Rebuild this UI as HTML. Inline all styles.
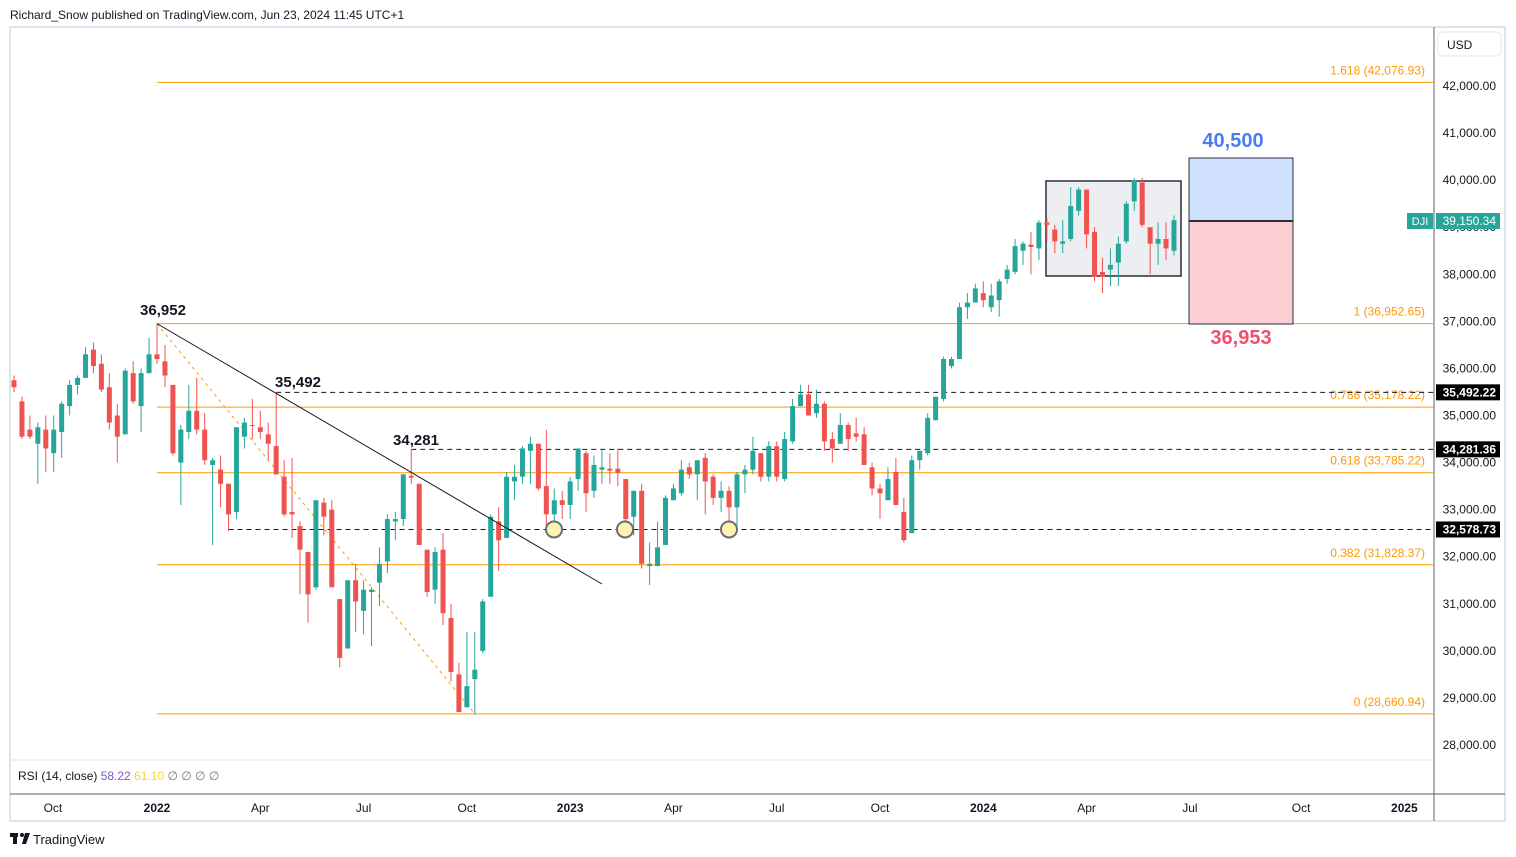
<!DOCTYPE html>
<html><head><meta charset="utf-8">
<style>
body{margin:0;background:#fff;width:1516px;height:857px;overflow:hidden;font-family:"Liberation Sans",sans-serif;}
svg{position:absolute;left:0;top:0}
</style></head>
<body>
<svg id="chart" width="1516" height="857" xmlns="http://www.w3.org/2000/svg">
<text x="10" y="19" font-size="12" fill="#131722">Richard_Snow published on TradingView.com, Jun 23, 2024 11:45 UTC+1</text>
<rect x="10" y="27" width="1495" height="794" fill="#fff" stroke="#e0e3eb" stroke-width="2"/>
<line x1="1434" y1="27" x2="1434" y2="821" stroke="#5d606b" stroke-width="1"/>
<line x1="10" y1="760" x2="1434" y2="760" stroke="#e0e3eb" stroke-width="1"/>
<line x1="10" y1="794" x2="1505" y2="794" stroke="#5d606b" stroke-width="1"/>
<rect x="1438" y="32" width="63" height="24" rx="4" fill="#fff" stroke="#e0e3eb"/>
<text x="1447" y="49" font-size="12" fill="#131722">USD</text>
<rect x="1046" y="181" width="135" height="95" fill="#eceef2" stroke="#2a2e39" stroke-width="1.5"/>
<g id="yaxis"></g>
<g id="fib"></g>
<g id="levels"></g>
<g id="candles"></g>
<g id="overlay"></g>
<g id="xaxis"></g>
<text x="18" y="780" font-size="12" fill="#131722">RSI (14, close) <tspan fill="#7e57c2">58.22</tspan> <tspan fill="#f7d13a">61.10</tspan> <tspan fill="#787b86">∅ ∅ ∅ ∅</tspan></text>
<g>
<rect x="10" y="833" width="8" height="4" fill="#131722"/><rect x="13" y="833" width="4" height="11" fill="#131722"/><circle cx="22" cy="835" r="2" fill="#131722"/><path d="M25 833 L30 833 L26 844 L22 844 Z" fill="#131722"/>
<text x="33" y="844" font-size="13" fill="#131722">TradingView</text></g>
</svg>
<script>
// Weekly OHLC in thousands (DJI)
const opens=[35.75,35.3,34.7,34.4,34.7,34.2,34.65,35.2,35.65,35.8,36.4,36.1,35.6,35.0,34.6,35.9,35.2,35.9,36.3,36.15,35.65,34.0,34.65,35.1,34.7,33.95,33.85,33.55,32.95,34.55,34.8,34.75,34.6,34.35,33.7,32.95,32.65,32.1,31.35,33.15,33.0,31.1,30.05,31.5,30.85,31.25,31.45,31.9,32.75,32.8,33.72,33.55,32.15,31.3,32.15,30.7,29.5,28.8,29.4,30.0,31.15,32.75,32.4,33.6,33.7,34.25,34.4,33.5,32.9,33.2,33.1,33.65,34.2,33.4,33.85,33.87,33.87,33.65,32.85,33.4,31.8,31.8,32.25,33.2,33.35,33.9,33.75,34.1,33.7,33.25,33.4,33.05,33.75,33.85,34.2,33.7,34.35,33.65,34.45,35.2,35.45,35.05,35.25,34.5,34.4,34.8,34.62,34.6,33.9,33.45,33.2,33.8,32.95,32.5,34.05,34.2,34.9,35.35,36.05,36.2,37.3,37.4,37.6,37.3,37.45,37.9,38.05,38.5,38.63,38.55,39.1,38.95,38.65,38.75,39.35,39.8,38.9,38.05,38.1,38.25,38.7,39.55,39.95,39.0,38.65,38.75,38.5];
const closes=[35.6,34.55,34.55,34.75,34.3,34.7,35.25,35.65,35.8,36.3,36.05,35.55,34.85,34.55,35.95,35.3,35.9,36.3,36.2,35.85,34.2,34.7,35.1,34.7,34.05,34.05,33.55,32.9,34.75,34.85,34.78,34.65,34.4,33.75,32.9,32.9,32.15,31.2,33.2,32.85,31.35,29.85,31.5,31.05,31.3,31.3,31.85,32.8,32.8,33.75,33.68,32.25,31.25,32.1,30.8,29.55,28.7,29.25,29.6,31.05,32.85,32.35,33.7,33.7,34.3,34.4,33.45,32.9,33.2,33.1,33.6,34.3,33.35,33.95,33.9,33.83,33.78,32.8,33.4,31.85,31.85,32.2,33.25,33.45,33.85,33.75,34.05,33.6,33.25,33.4,33.05,33.75,33.85,34.25,33.7,34.35,33.7,34.5,35.2,35.45,35.0,35.25,34.45,34.3,34.8,34.5,34.55,33.95,33.45,33.35,33.65,33.1,32.35,34.05,34.25,34.95,35.4,36.2,36.2,37.3,37.4,37.7,37.45,37.55,37.85,38.1,38.6,38.65,38.58,39.1,39.05,38.7,38.7,39.45,39.8,38.85,37.95,37.95,38.2,38.65,39.5,40.0,39.05,38.65,38.75,38.55,39.15];
const highs=[35.85,35.4,35.0,34.85,35.0,35.0,35.3,35.75,35.85,36.45,36.55,36.3,35.9,35.25,36.0,36.15,36.0,36.65,36.95,36.5,35.65,34.8,35.65,35.8,35.05,34.1,34.15,33.55,34.75,34.95,35.35,35.1,34.85,35.49,34.05,34.1,32.75,32.1,33.2,33.25,33.2,31.1,31.5,31.85,31.5,31.35,32.2,32.9,32.95,33.75,34.28,33.55,32.15,32.2,32.5,31.0,29.75,30.4,30.4,31.1,32.9,33.05,33.8,33.95,34.35,34.55,34.4,34.7,33.45,33.4,33.7,34.3,34.25,34.15,34.3,34.2,34.3,33.65,33.4,33.55,32.3,32.75,33.3,33.55,34.05,34.0,34.05,34.2,33.75,33.6,33.5,33.8,33.95,34.55,34.2,34.45,34.45,34.65,35.35,35.65,35.65,35.55,35.3,34.65,35.05,34.85,34.95,34.75,34.0,33.55,33.9,34.1,33.25,34.15,34.25,35.05,35.4,36.25,36.25,37.4,37.6,37.8,37.85,37.8,37.9,38.2,38.75,38.7,38.9,39.15,39.2,39.05,39.15,39.85,39.85,39.8,39.0,38.35,38.55,38.8,39.55,40.05,40.05,39.0,39.1,39.1,39.25];
const lows=[35.5,34.5,34.5,33.55,33.8,33.8,34.1,35.0,35.45,35.8,35.9,35.5,34.7,34.0,34.6,35.25,34.65,35.9,36.1,35.6,34.15,33.1,34.5,34.6,33.95,32.25,33.05,32.55,32.8,34.3,34.5,34.5,34.05,33.75,32.85,32.4,31.2,30.6,31.3,32.45,31.35,29.65,30.05,30.4,30.35,30.1,30.95,31.65,32.35,32.65,33.55,32.25,31.15,31.0,30.55,29.35,28.7,28.8,28.65,29.95,31.15,31.7,32.4,33.2,33.55,33.55,33.4,32.65,32.55,32.8,32.8,33.4,32.95,33.25,33.55,33.55,33.5,32.65,32.45,31.75,31.4,31.8,32.25,33.2,33.3,33.65,33.2,32.9,33.1,32.95,32.65,32.65,33.35,33.75,33.6,33.6,33.6,33.6,34.4,35.2,35.0,34.95,34.25,34.0,34.4,34.25,34.45,33.95,33.3,32.8,33.2,33.1,32.3,32.5,33.85,34.15,34.9,35.3,36.0,36.2,37.05,37.4,37.3,37.2,37.1,37.8,38.0,38.2,38.0,38.3,38.7,38.45,38.45,38.7,39.25,38.55,37.85,37.6,37.75,37.75,38.65,39.35,39.0,38.0,38.2,38.3,38.4];
const priceTicks=[28,29,30,31,32,33,34,35,36,37,38,39,40,41,42];
const timeLabels=["Oct","2022","Apr","Jul","Oct","2023","Apr","Jul","Oct","2024","Apr","Jul","Oct","2025"];
const timeWeeks=[4.9,18,31,44,57,70,83,96,109,122,135,148,162,175];
const fibRatios=["1.618","1","0.786","0.618","0.382","0"];
const fibPrices=[42076.93,36952.65,35178.22,33785.22,31828.37,28660.94];
const levelPrices=[35492.22,34281.36,32578.73];

const NS="http://www.w3.org/2000/svg";
function yS(p){return 745-(p-28)*47.07;}
function xS(i){return 14+i*7.945;}
function mk(tag,attrs,parent,txt){const e=document.createElementNS(NS,tag);for(const k in attrs)e.setAttribute(k,attrs[k]);if(txt!==undefined)e.textContent=txt;parent.appendChild(e);return e;}
function fmt(v){return v.toLocaleString('en-US',{minimumFractionDigits:2,maximumFractionDigits:2});}

const yaxis=document.getElementById('yaxis');
priceTicks.forEach(p=>{
  const t=mk('text',{x:1496,y:yS(p)+4,'font-size':12,fill:'#131722','text-anchor':'end'},yaxis,fmt(p*1000));
  
  
});
const xaxis=document.getElementById('xaxis');
timeLabels.forEach((l,k)=>{
  const bold=/^\d{4}$/.test(l);
  const t=mk('text',{x:xS(timeWeeks[k]),y:812,'font-size':12,fill:'#131722','text-anchor':'middle','font-weight':bold?'bold':'normal'},xaxis,l);
  
  
});

const fib=document.getElementById('fib');
fibPrices.forEach((p,k)=>{
  const y=yS(p/1000);
  const l=mk('line',{x1:157,y1:y,x2:1434,y2:y,stroke:'#ff9800','stroke-width':1},fib);
  
  
  const t=mk('text',{x:1425,y:y-8,'font-size':12,fill:'#ff9800','text-anchor':'end'},fib,fibRatios[k]+' ('+fmt(p)+')');
  
  
});
mk('line',{x1:157,y1:yS(36.95265),x2:xS(58),y2:yS(28.66094),stroke:'#ff9800','stroke-width':1,'stroke-dasharray':'3,4'},fib);

const levels=document.getElementById('levels');
const levelStarts=[33,50,27];
levelPrices.forEach((p,k)=>{
  const y=yS(p/1000);
  const l=mk('line',{x1:xS(levelStarts[k]),y1:y,x2:1434,y2:y,stroke:'#131722','stroke-width':1,'stroke-dasharray':'5,4'},levels);
  
  
  const r=mk('rect',{x:1436,y:y-8,width:64,height:16,fill:'#000'},levels);
  
  
  mk('text',{x:1496,y:y+4,'font-size':12,fill:'#fff','text-anchor':'end','font-weight':'bold'},levels,fmt(p));
});

const cg=document.getElementById('candles');
opens.forEach((o,i)=>{
  const c=closes[i],up=c>=o,col=up?'#26a69a':'#ef5350',x=xS(i);
  const g=mk('g',{},cg);
  
  
  mk('line',{x1:x,y1:yS(highs[i]),x2:x,y2:yS(lows[i]),stroke:col,'stroke-width':1},g);
  const top=yS(Math.max(o,c)),bot=yS(Math.min(o,c));
  mk('rect',{x:x-2.5,y:top,width:5,height:Math.max(1,bot-top),fill:col},g);
});

const ov=document.getElementById('overlay');
let e;
e=mk('line',{x1:157,y1:yS(36.952),x2:602,y2:584,stroke:'#131722','stroke-width':1},ov);


[[554],[625],[729]].forEach(a=>{
  const c=mk('circle',{cx:a[0],cy:yS(32.57873),r:8,fill:'#fff3b0',stroke:'#6a6d78','stroke-width':2},ov);
  
  
});
e=mk('rect',{x:1189,y:158,width:104,height:63,fill:'#cfe0fd',stroke:'#2a2e39','stroke-width':1},ov);


e=mk('rect',{x:1189,y:221,width:104,height:103,fill:'#fccfd4',stroke:'#2a2e39','stroke-width':1},ov);


mk('line',{x1:1189,y1:221,x2:1293,y2:221,stroke:'#2a2e39','stroke-width':2},ov);
e=mk('text',{x:1233,y:147,'font-size':20,'font-weight':'bold',fill:'#4a7cf0','text-anchor':'middle'},ov,'40,500');


e=mk('text',{x:1241,y:344,'font-size':20,'font-weight':'bold',fill:'#f0506e','text-anchor':'middle'},ov,'36,953');


[['36,952',163,315],['35,492',298,387],['34,281',416,445]].forEach(a=>{
  const t=mk('text',{x:a[1],y:a[2],'font-size':15,'font-weight':'bold',fill:'#131722','text-anchor':'middle'},ov,a[0]);
  
  
});
e=mk('rect',{x:1407,y:213,width:26,height:16,fill:'#26a69a'},ov);


mk('text',{x:1420,y:225,'font-size':11,fill:'#fff','text-anchor':'middle'},ov,'DJI');
e=mk('rect',{x:1436,y:213,width:64,height:16,fill:'#26a69a'},ov);


mk('text',{x:1496,y:225,'font-size':12,fill:'#fff','text-anchor':'end'},ov,'39,150.34');
</script>
</body></html>
